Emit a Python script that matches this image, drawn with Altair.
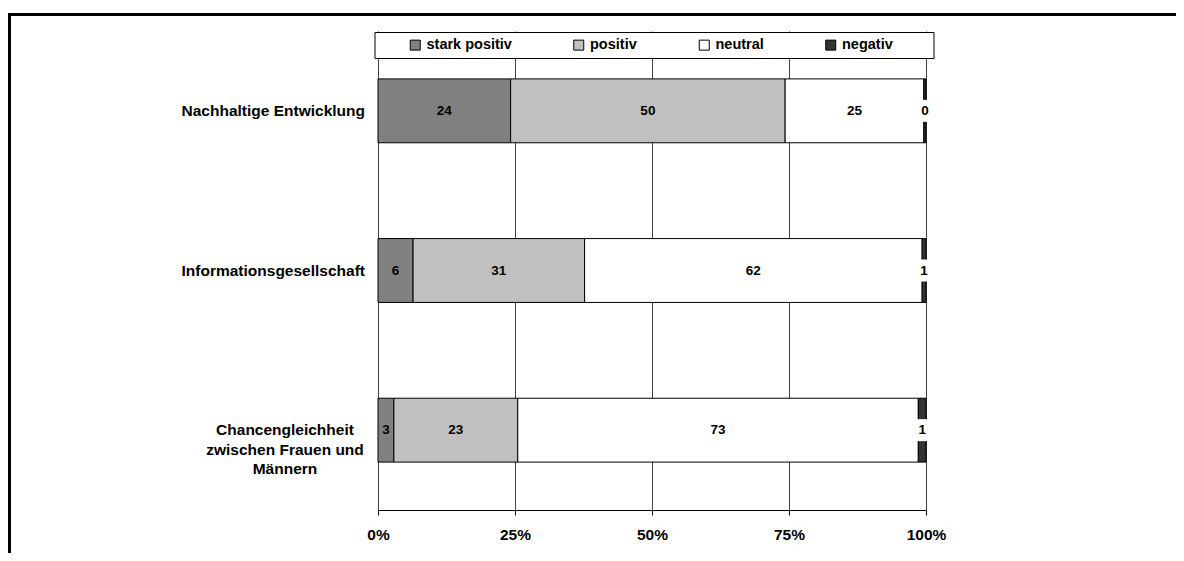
import altair as alt
import pandas as pd

FONT = "Liberation Sans"

categories = [
    "Nachhaltige Entwicklung",
    "Informationsgesellschaft",
    "Chancengleichheit\nzwischen Frauen und\nMännern",
]
series = ["stark positiv", "positiv", "neutral", "negativ"]
colors = ["#808080", "#C0C0C0", "#FFFFFF", "#333333"]

stark_positiv = [24.2, 6.4, 2.9]
positiv = [50.1, 31.3, 22.6]
neutral = [25.3, 61.6, 73.1]
negativ = [0.4, 0.7, 1.4]

tick_values = [0, 0.25, 0.5, 0.75, 1.0]

rows = []
for i, c in enumerate(categories):
    for j, (s, vals) in enumerate(zip(series, [stark_positiv, positiv, neutral, negativ])):
        rows.append({"category": c, "series": s, "order": j, "value": vals[i]})
df = pd.DataFrame(rows)
cat_df = pd.DataFrame({"category": categories})

yscale = alt.Scale(paddingInner=0.6, paddingOuter=0.3)
xscale = alt.Scale(domain=[0, 1], nice=False, zero=True)

y_enc = alt.Y(
    "category:N", sort=categories, scale=yscale,
    axis=alt.Axis(title=None, labels=False, bandPosition=1, tickSize=5,
                  tickColor="black", domainColor="black", grid=False),
)
y_noaxis = alt.Y("category:N", sort=categories, scale=yscale, axis=None)

bars = alt.Chart(df).mark_bar(stroke="black", strokeWidth=1).encode(
    x=alt.X("value:Q", stack="normalize", scale=xscale,
            axis=alt.Axis(title=None, values=tick_values, format=".0%", grid=True,
                          gridColor="#404040", tickSize=5, tickColor="black",
                          domainColor="black", labelPadding=12, labelFlush=False,
                          labelFontSize=15.5)),
    y=y_enc,
    color=alt.Color(
        "series:N", sort=series,
        scale=alt.Scale(domain=series, range=colors),
        legend=alt.Legend(
            title=" ", titleOrient="right", titlePadding=35,
            orient="none", legendX=-3.5, legendY=1, direction="horizontal",
            fillColor="white", strokeColor="black", padding=5.5,
            symbolType="square", symbolSize=100, symbolStrokeColor="black",
            symbolStrokeWidth=1, symbolOffset=28,
            labelFont=FONT, labelFontSize=14.5, labelFontWeight="bold",
            labelColor="black", labelOffset=4, columnPadding=31.5,
        ),
    ),
    order=alt.Order("order:Q"),
)

stacked = alt.Chart(df).transform_stack(
    stack="value", groupby=["category"], sort=[alt.SortField("order")],
    as_=["x0", "x1"], offset="normalize",
).transform_calculate(
    mid="(datum.x0 + datum.x1) / 2",
    label="format(datum.value, '.0f')",
)

patch = stacked.transform_filter("datum.series == 'negativ'").mark_tick(
    color="white", thickness=12, size=22, opacity=1
).encode(x=alt.X("mid:Q", scale=xscale), y=y_noaxis)

text = stacked.mark_text(
    font=FONT, fontSize=13.5, fontWeight="bold", color="black", baseline="middle"
).encode(x=alt.X("mid:Q", scale=xscale), y=y_noaxis, text="label:N")

single = alt.Chart(cat_df).transform_filter("indexof(datum.category, '\\n') < 0").mark_text(
    align="right", baseline="middle", font=FONT, fontSize=15.5, fontWeight="bold",
    color="black",
).encode(x=alt.value(-13), y=y_noaxis, text="category:N")

multi = alt.Chart(cat_df).transform_filter("indexof(datum.category, '\\n') >= 0").mark_text(
    align="center", baseline="middle", font=FONT, fontSize=15.5, fontWeight="bold",
    color="black", lineBreak="\n", lineHeight=19.5,
).encode(x=alt.value(-93), y=y_noaxis, text="category:N")

frame_src = pd.DataFrame({"f": [0]})
frame_v = alt.Chart(frame_src).mark_rule(color="black", strokeWidth=3).encode(
    x=alt.value(-368.5), y=alt.value(-17.5), y2=alt.value(540)
)
frame_h = alt.Chart(frame_src).mark_rule(color="black", strokeWidth=3).encode(
    x=alt.value(-370), x2=alt.value(820), y=alt.value(-16.5)
)

chart = alt.layer(frame_v, frame_h, bars, patch, text, single, multi).properties(
    width=548, height=479,
    padding={"left": 370, "top": 23, "right": 250, "bottom": 43},
    autosize=alt.AutoSizeParams(type="none"),
).configure_view(stroke=None).configure_axis(
    labelFont=FONT, labelFontSize=14.5, labelFontWeight="bold", labelColor="black"
)

chart.save("out.html", embed_options={"renderer": "svg", "actions": False})
